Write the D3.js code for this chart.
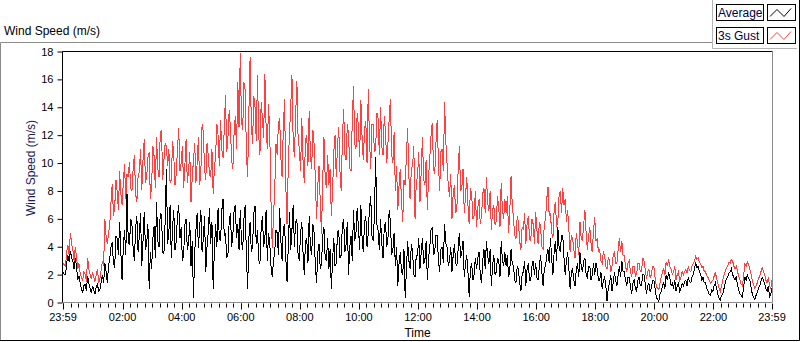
<!DOCTYPE html>
<html>
<head>
<meta charset="utf-8">
<script src="https://cdn.jsdelivr.net/npm/d3@7"></script>
<style>
  body { margin: 0; background: #fff; }
  svg { display: block; font-family: "Liberation Sans", Arial, sans-serif; }
</style>
</head>
<body>
<svg id="chart" width="800" height="342"></svg>
<script>
// samples every 2.5 minutes, starting 23:59 the day before
const startTime = new Date(2024, 0, 1, 23, 59);
const stepMinutes = 2.5;

const seriesNames = ["Average", "3s Gust"];

// one row per hour (24 samples), last row has the closing 23:59 sample
const gust = [
  2.8, 2.7, 2.6, 3.6, 4.1, 3.4, 5.0, 4.2, 3.8, 3.0, 4.0, 3.2, 2.4, 2.8, 2.1, 1.8, 1.6, 2.2, 2.0, 1.5, 3.2, 2.4, 2.0, 1.7,
  2.2, 1.8, 1.5, 2.0, 2.4, 1.4, 1.7, 2.3, 3.0, 2.6, 6.0, 4.8, 4.2, 5.0, 5.6, 7.2, 8.5, 6.2, 6.8, 8.8, 8.0, 6.6, 9.4, 7.8,
  7.0, 8.6, 9.9, 7.4, 9.2, 9.0, 10.1, 8.2, 8.0, 9.6, 10.6, 7.8, 7.2, 9.0, 9.4, 11.0, 8.1, 10.2, 11.7, 8.6, 9.0, 10.4, 10.8, 7.4,
  8.4, 11.2, 10.5, 8.2, 11.9, 9.6, 9.0, 12.1, 12.4, 8.8, 10.2, 11.4, 11.2, 9.8, 11.0, 8.6, 8.8, 11.6, 10.5, 8.4, 9.2, 11.0, 12.5, 9.4,
  10.0, 11.2, 8.2, 9.8, 11.7, 8.6, 9.4, 10.8, 7.2, 9.0, 10.2, 11.4, 8.6, 10.0, 11.9, 8.4, 9.4, 12.8, 12.2, 9.6, 8.8, 11.4, 10.6, 9.2,
  9.0, 11.0, 7.8, 9.6, 10.6, 12.8, 12.0, 9.8, 13.1, 11.0, 10.4, 12.4, 14.9, 10.8, 11.8, 13.8, 12.6, 10.2, 9.6, 12.2, 13.4, 11.0, 15.8, 12.6,
  17.9, 13.0, 12.4, 15.8, 15.2, 10.8, 9.0, 13.6, 17.6, 12.8, 11.4, 14.8, 14.0, 11.6, 16.3, 12.0, 10.6, 14.4, 13.2, 11.8, 16.4, 12.6, 11.0, 14.2,
  12.0, 7.2, 3.9, 6.2, 8.0, 11.4, 10.6, 12.8, 13.2, 10.4, 9.0, 12.6, 14.6, 8.4, 5.6, 9.8, 12.2, 14.0, 16.3, 11.6, 10.4, 13.4, 15.9, 11.8,
  11.0, 9.4, 13.2, 10.2, 8.6, 11.6, 12.0, 9.8, 13.7, 10.6, 9.6, 12.4, 11.4, 8.8, 6.0, 8.4, 9.8, 7.2, 4.9, 8.8, 11.9, 9.0, 8.2, 10.6,
  8.4, 9.6, 6.2, 8.0, 10.8, 12.0, 9.0, 11.2, 12.6, 9.4, 8.0, 11.8, 13.9, 10.6, 10.2, 12.8, 12.0, 9.6, 9.4, 13.0, 15.5, 11.4, 11.0, 13.6,
  12.6, 10.4, 14.5, 11.8, 10.2, 12.4, 13.0, 10.0, 15.3, 11.6, 9.6, 12.8, 12.8, 10.8, 11.0, 13.6, 13.2, 10.6, 14.0, 11.2, 10.6, 13.4, 12.2, 10.0,
  11.4, 13.2, 14.6, 10.6, 10.0, 12.2, 8.0, 9.8, 6.6, 8.4, 9.6, 7.2, 5.8, 8.8, 8.4, 10.6, 12.5, 9.0, 7.4, 9.6, 9.8, 11.2, 6.0, 8.6,
  9.0, 10.8, 7.2, 9.4, 11.9, 8.8, 8.4, 10.2, 6.6, 9.0, 10.4, 12.0, 12.9, 9.6, 9.2, 11.4, 13.1, 10.0, 8.0, 10.8, 11.0, 9.4, 14.4, 11.6,
  10.0, 8.4, 7.6, 9.2, 6.0, 7.8, 8.4, 6.4, 6.8, 9.4, 11.2, 8.0, 8.2, 9.6, 6.4, 7.6, 9.0, 7.0, 5.6, 8.2, 7.8, 6.0, 6.2, 8.0,
  5.4, 6.8, 7.4, 5.6, 6.2, 7.8, 8.2, 6.4, 9.0, 7.2, 6.6, 8.0, 5.2, 6.6, 7.0, 5.6, 5.8, 7.6, 6.8, 5.4, 8.6, 6.6, 6.0, 7.4,
  6.4, 7.6, 5.0, 6.6, 9.1, 7.0, 6.0, 4.8, 4.6, 6.2, 5.8, 4.4, 3.8, 5.4, 5.2, 6.4, 4.2, 5.6, 6.2, 4.6, 4.4, 6.0, 5.6, 4.2,
  6.5, 5.2, 4.2, 5.8, 5.4, 4.0, 3.8, 5.6, 6.0, 7.4, 8.3, 6.2, 6.4, 5.0, 4.6, 6.6, 7.2, 5.4, 5.8, 7.6, 8.0, 6.4, 8.2, 7.0,
  7.4, 5.8, 6.6, 5.2, 3.6, 4.8, 4.6, 3.8, 3.2, 5.0, 4.2, 3.4, 5.8, 4.6, 4.4, 5.6, 6.6, 5.0, 3.8, 4.8, 5.4, 4.2, 3.6, 5.2,
  6.1, 4.4, 4.6, 3.6, 3.8, 3.0, 2.8, 3.6, 3.4, 2.6, 2.4, 3.2, 3.0, 2.2, 2.6, 3.4, 3.6, 2.8, 2.8, 3.8, 4.6, 3.6, 4.4, 3.4,
  3.4, 2.6, 2.2, 2.8, 3.0, 2.2, 1.8, 2.6, 2.6, 1.9, 2.0, 2.8, 2.8, 2.2, 2.2, 3.2, 3.0, 2.4, 1.7, 2.2, 2.4, 1.8, 2.0, 2.6,
  2.6, 1.8, 1.2, 1.0, 0.9, 1.4, 1.8, 2.2, 2.4, 2.0, 2.9, 2.6, 3.1, 2.6, 2.4, 2.0, 2.2, 2.6, 1.6, 2.0, 2.2, 1.6, 1.8, 2.2,
  2.0, 2.2, 2.4, 2.1, 2.6, 2.3, 2.2, 2.6, 2.8, 3.0, 3.3, 3.1, 3.2, 2.9, 2.8, 2.5, 2.6, 2.2, 2.2, 1.9, 1.8, 1.6, 1.4, 1.5,
  1.6, 1.9, 2.2, 1.7, 1.4, 1.0, 0.8, 1.2, 1.6, 2.0, 2.2, 2.5, 2.6, 2.9, 2.8, 3.1, 3.0, 2.6, 2.4, 2.6, 2.2, 1.9, 1.6, 1.3,
  1.2, 2.0, 2.8, 2.6, 2.9, 2.7, 2.4, 2.0, 1.6, 1.3, 1.0, 1.2, 1.4, 1.7, 1.9, 2.2, 2.5, 2.3, 2.0, 1.6, 1.4, 1.8, 1.2, 1.0, 1.6
];

const average = [
  2.2, 2.0, 2.0, 2.8, 3.4, 2.9, 3.7, 3.2, 3.0, 2.4, 3.2, 2.6, 1.6, 1.9, 1.4, 1.0, 0.7, 1.2, 1.3, 0.8, 1.9, 1.4, 1.0, 0.7,
  1.2, 0.9, 0.6, 1.1, 1.3, 0.8, 0.9, 1.5, 2.0, 1.4, 2.8, 2.2, 1.4, 2.6, 3.2, 4.0, 4.3, 2.8, 2.5, 4.8, 4.6, 3.4, 5.8, 3.6,
  1.6, 4.0, 5.2, 3.4, 7.8, 4.4, 4.1, 6.0, 5.6, 3.8, 3.0, 5.4, 6.2, 3.6, 4.8, 6.4, 2.6, 4.4, 6.5, 3.8, 4.2, 5.6, 1.0, 3.6,
  2.4, 4.6, 5.5, 3.2, 7.2, 4.4, 4.0, 6.4, 6.3, 3.6, 3.5, 5.8, 9.6, 4.2, 5.0, 7.0, 3.2, 5.4, 6.6, 3.8, 4.4, 6.2, 7.0, 4.6,
  5.4, 3.0, 3.4, 5.6, 6.0, 3.8, 4.2, 5.8, 2.6, 4.4, 0.3, 3.6, 5.2, 6.4, 3.9, 5.4, 6.6, 3.6, 4.6, 6.2, 2.2, 4.0, 5.0, 6.8,
  4.2, 5.8, 1.0, 3.8, 5.6, 4.0, 6.8, 4.6, 4.4, 6.6, 7.4, 4.8, 5.0, 3.2, 3.4, 5.8, 6.4, 4.0, 4.8, 6.6, 7.0, 4.6, 5.6, 3.8,
  6.6, 4.4, 3.8, 6.0, 7.0, 3.4, 1.0, 4.6, 5.8, 3.6, 4.0, 6.4, 6.9, 4.2, 5.2, 3.0, 2.8, 5.4, 6.2, 4.0, 4.6, 6.6, 3.0, 5.0,
  4.2, 2.6, 1.8, 3.0, 3.6, 5.2, 5.0, 3.4, 6.8, 4.4, 3.0, 5.4, 5.6, 3.2, 1.5, 4.0, 6.5, 3.8, 5.2, 7.0, 4.0, 5.8, 6.0, 3.4,
  3.0, 5.0, 5.8, 3.6, 2.0, 4.4, 4.6, 2.8, 6.2, 4.0, 3.4, 5.6, 5.0, 2.6, 1.4, 3.6, 4.2, 2.4, 2.8, 4.8, 5.4, 3.2, 3.0, 4.6,
  2.4, 3.8, 1.0, 3.0, 4.6, 2.6, 2.8, 5.0, 5.2, 3.2, 3.4, 5.6, 6.0, 3.6, 4.2, 5.8, 2.0, 4.0, 4.8, 3.0, 6.6, 4.4, 5.0, 6.8,
  5.4, 3.8, 7.0, 4.6, 3.6, 5.8, 6.2, 4.0, 5.0, 6.8, 7.6, 4.8, 4.4, 6.2, 10.4, 5.6, 5.2, 3.8, 6.0, 4.2, 3.2, 5.4, 5.8, 4.0,
  4.6, 6.6, 5.8, 3.4, 3.8, 5.0, 2.6, 4.0, 1.2, 2.8, 3.6, 2.2, 2.0, 3.8, 0.3, 2.4, 4.4, 3.0, 2.4, 4.2, 3.6, 2.0, 1.8, 3.4,
  3.4, 4.6, 2.4, 3.6, 4.6, 2.8, 3.0, 4.4, 1.6, 3.2, 4.0, 5.2, 5.4, 3.4, 3.6, 4.8, 4.8, 3.0, 2.2, 3.8, 4.0, 2.8, 5.6, 4.2,
  4.0, 2.6, 3.0, 4.0, 2.2, 3.4, 4.2, 2.8, 2.6, 3.8, 5.0, 3.2, 3.6, 4.4, 1.8, 2.8, 3.4, 2.2, 0.4, 2.4, 2.8, 1.6, 2.0, 3.2,
  2.4, 3.2, 3.6, 2.0, 1.4, 3.0, 3.8, 2.4, 4.4, 3.4, 2.8, 3.8, 1.2, 2.6, 3.4, 2.0, 2.2, 3.2, 3.0, 1.8, 4.4, 3.0, 2.6, 3.6,
  2.6, 3.4, 1.8, 2.4, 3.8, 2.8, 2.6, 1.6, 1.4, 2.6, 2.4, 1.4, 0.8, 2.0, 2.2, 3.0, 1.2, 2.4, 2.8, 1.6, 1.6, 2.6, 3.0, 2.0,
  2.8, 1.8, 1.6, 2.6, 3.4, 2.2, 1.2, 2.4, 2.6, 3.4, 3.8, 2.8, 4.6, 3.2, 2.0, 3.6, 4.4, 3.0, 5.4, 4.0, 3.6, 4.8, 4.8, 3.2,
  2.0, 3.0, 3.6, 2.4, 1.0, 2.2, 2.4, 1.6, 1.2, 2.4, 2.8, 1.8, 3.6, 2.6, 2.2, 3.0, 3.2, 2.0, 1.8, 2.6, 2.6, 1.6, 2.0, 2.8,
  2.0, 2.8, 2.4, 1.6, 1.6, 2.2, 1.0, 1.6, 1.8, 1.2, 0.1, 1.0, 1.4, 2.0, 0.8, 1.4, 2.2, 1.6, 1.2, 2.0, 2.6, 1.8, 3.0, 2.2,
  2.2, 1.6, 1.2, 1.8, 1.8, 1.2, 0.6, 1.4, 1.6, 1.0, 0.8, 1.6, 1.8, 1.2, 1.2, 2.0, 2.0, 1.4, 0.6, 1.2, 1.4, 0.8, 1.0, 1.6,
  1.6, 1.0, 0.4, 0.2, 0.1, 0.6, 0.8, 1.2, 1.4, 1.0, 2.0, 1.6, 2.2, 1.8, 1.2, 1.4, 1.0, 1.6, 0.8, 1.2, 1.4, 0.8, 1.0, 1.4,
  1.2, 1.5, 1.6, 1.2, 1.8, 1.5, 1.4, 1.8, 2.0, 2.4, 2.9, 2.5, 2.6, 2.2, 2.0, 1.6, 1.8, 1.4, 1.4, 1.0, 0.8, 0.6, 0.5, 0.9,
  0.8, 1.2, 1.4, 1.0, 0.6, 0.3, 0.2, 0.5, 0.6, 1.0, 1.4, 1.7, 1.8, 2.1, 2.2, 2.4, 2.0, 1.8, 1.6, 1.9, 1.2, 0.9, 0.6, 0.5,
  0.4, 1.2, 1.8, 1.6, 2.0, 1.7, 1.6, 1.1, 0.6, 0.4, 0.2, 0.5, 0.7, 1.0, 1.2, 1.5, 1.8, 1.6, 1.4, 1.0, 0.8, 1.2, 0.4, 0.6, 1.0
];

const yTicks = [0, 2, 4, 6, 8, 10, 12, 14, 16, 18];
const xTickLabels = ["23:59", "02:00", "04:00", "06:00", "08:00", "10:00", "12:00",
                     "14:00", "16:00", "18:00", "20:00", "22:00", "23:59"];

// --- layout ---
const plot = { left: 62.5, top: 51.5, right: 772.5, bottom: 302.5 };
const endTime = new Date(2024, 0, 2, 23, 59);

const svg = d3.select("#chart");

const x = d3.scaleTime().domain([startTime, endTime]).range([63, 772]);
const y = d3.scaleLinear().domain([0, 18]).range([plot.bottom, plot.top]);

const timeAt = i => new Date(startTime.getTime() + i * stepMinutes * 60000);

// outer sunken frame
svg.append("path")
  .attr("d", "M0.5,340.5 V42.5 H712")
  .attr("fill", "none").attr("stroke", "#8c8c8c");
svg.append("path")
  .attr("d", "M0,340.5 H799.5 V0")
  .attr("fill", "none").attr("stroke", "#000");

// chart label, top left
svg.append("text")
  .attr("x", 4).attr("y", 35)
  .attr("font-size", 12).attr("fill", "#000")
  .text("Wind Speed (m/s)");

// plot frame: dark top/left, grey right/bottom
svg.append("path")
  .attr("d", `M${plot.left},${plot.bottom} V${plot.top} H${plot.right}`)
  .attr("fill", "none").attr("stroke", "#000");
svg.append("path")
  .attr("d", `M${plot.right},${plot.top} V${plot.bottom} H${plot.left}`)
  .attr("fill", "none").attr("stroke", "#8c8c8c");

// series (gust underneath, average on top)
const line = d3.line()
  .x((d, i) => x(timeAt(i)))
  .y(d => y(d));

svg.append("path")
  .datum(gust)
  .attr("d", line)
  .attr("fill", "none")
  .attr("stroke", "#ff4040")
  .attr("stroke-width", 1)
  .attr("shape-rendering", "crispEdges");

svg.append("path")
  .datum(average)
  .attr("d", line)
  .attr("fill", "none")
  .attr("stroke", "#000")
  .attr("stroke-width", 1)
  .attr("shape-rendering", "crispEdges");

// y axis
const yAxis = d3.axisLeft(y).tickValues(yTicks).tickSize(5).tickPadding(4).tickSizeOuter(0);
const gy = svg.append("g")
  .attr("transform", `translate(${plot.left},0)`)
  .call(yAxis);
gy.select(".domain").remove();
gy.selectAll("text").attr("font-size", 11).attr("font-family", "Liberation Sans, Arial, sans-serif").attr("fill", "#000");
gy.selectAll("line").attr("stroke", "#000");

svg.append("text")
  .attr("transform", `translate(35,168) rotate(-90)`)
  .attr("text-anchor", "middle")
  .attr("font-size", 12)
  .attr("fill", "#1a1a5a")
  .text("Wind Speed (m/s)");

// x axis: labelled major ticks + 15 minute minor ticks
const majorTimes = xTickLabels.map((lab, i) => {
  if (i === 0) return startTime;
  if (i === xTickLabels.length - 1) return endTime;
  return new Date(2024, 0, 2, +lab.slice(0, 2), 0);
});
const minorTimes = d3.timeMinute.every(15).range(new Date(2024, 0, 2, 0, 0), endTime);

const gx = svg.append("g").attr("transform", `translate(0,${plot.bottom})`);
gx.selectAll(".minor")
  .data(minorTimes)
  .join("line")
  .attr("class", "minor")
  .attr("x1", d => Math.round(x(d)) + 0.5).attr("x2", d => Math.round(x(d)) + 0.5)
  .attr("y1", 1).attr("y2", 5)
  .attr("stroke", "#000");
gx.selectAll(".major")
  .data(majorTimes)
  .join("line")
  .attr("class", "major")
  .attr("x1", d => Math.round(x(d)) + 0.5).attr("x2", d => Math.round(x(d)) + 0.5)
  .attr("y1", 1).attr("y2", 7)
  .attr("stroke", "#000");
gx.selectAll(".lab")
  .data(majorTimes)
  .join("text")
  .attr("class", "lab")
  .attr("x", d => x(d))
  .attr("y", 18.5)
  .attr("text-anchor", "middle")
  .attr("font-size", 11)
  .attr("fill", "#000")
  .text((d, i) => xTickLabels[i]);

svg.append("text")
  .attr("x", (plot.left + plot.right) / 2)
  .attr("y", 337)
  .attr("text-anchor", "middle")
  .attr("font-size", 12)
  .attr("fill", "#000")
  .text("Time");

// legend panel, top right
svg.append("path")
  .attr("d", "M712.5,0 V48.5 H797")
  .attr("fill", "none").attr("stroke", "#b4b4b4");

const legendColors = ["#000", "#ff4040"];
const legend = svg.append("g");
seriesNames.forEach((name, i) => {
  const top = 4.5 + i * 23;
  legend.append("rect")
    .attr("x", 716.5).attr("y", top).attr("width", 47).attr("height", 16)
    .attr("fill", "#fff").attr("stroke", "#000");
  legend.append("text")
    .attr("x", 718).attr("y", top + 12.5)
    .attr("font-size", 12).attr("fill", "#000040")
    .text(name);
  legend.append("rect")
    .attr("x", 767.5).attr("y", top).attr("width", 28).attr("height", 16)
    .attr("fill", "#fff").attr("stroke", "#000");
  legend.append("polyline")
    .attr("points", [[770, top + 12], [777, top + 5], [784, top + 12], [791, top + 4]].join(" "))
    .attr("fill", "none")
    .attr("stroke", legendColors[i]);
});
</script>
</body>
</html>
